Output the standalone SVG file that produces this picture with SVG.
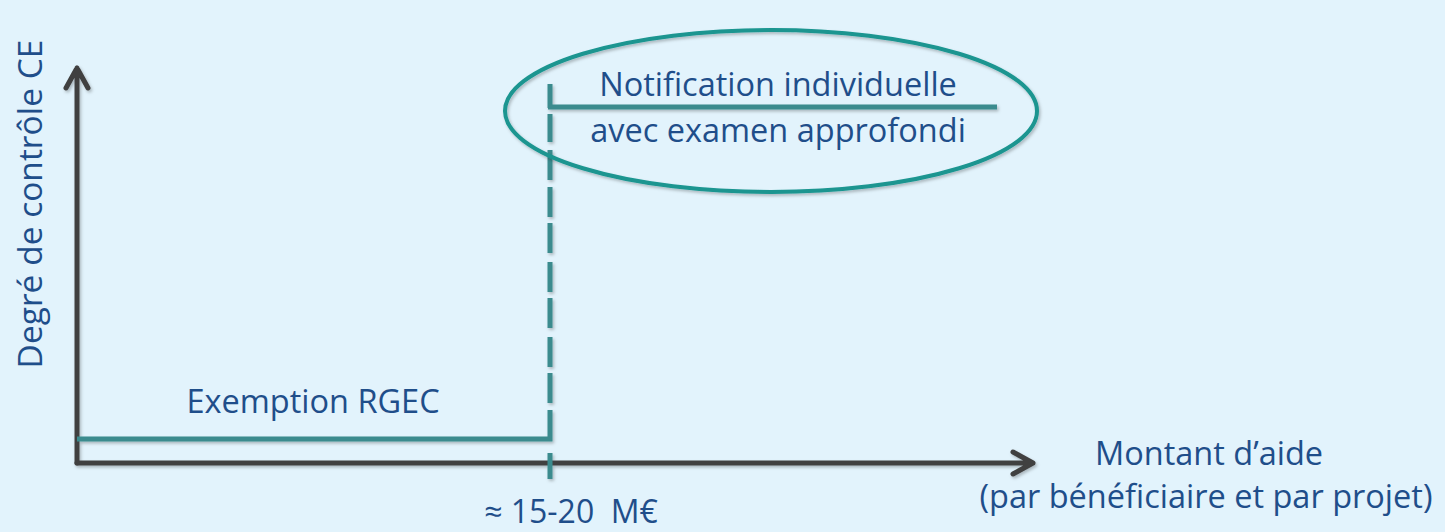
<svg xmlns="http://www.w3.org/2000/svg" width="1445" height="532" viewBox="0 0 1445 532">
<defs>
<style>
.t{font-family:"Open Sans","Liberation Sans",sans-serif;fill:#1f4e8a;font-size:32.5px;text-anchor:middle}
.axis{stroke:#404040;stroke-width:5;fill:none;stroke-linecap:round;stroke-linejoin:round}
.teal{stroke:#3b8b8e;stroke-width:5;fill:none}
</style>
<filter id="sh" x="-5%" y="-5%" width="110%" height="110%">
<feDropShadow dx="1.5" dy="2" stdDeviation="1.5" flood-color="#000" flood-opacity="0.25"/>
</filter>
</defs>
<rect width="1445" height="532" fill="#e2f3fc"/>
<g id="connectors" filter="url(#sh)">
<path class="axis" d="M77 463 V68 M66 88 L77 68 L88 88"/>
<path class="axis" d="M77 463 H1033 M1013 452 L1033 463 L1013 474"/>
<path class="teal" d="M77 439 H550 V410"/>
<path class="teal" d="M550 84 V108 M550 114 V142 M550 150 V180 M550 187 V217 M550 223 V253 M550 262 V292 M550 298 V328 M550 337 V367 M550 373 V403 M550 453 V479"/>
<path class="teal" d="M548 107 H997"/>
</g>
<g id="node-yaxis-label"><text class="t" style="font-size:33.5px" transform="translate(42 204) rotate(-90)">Degré de contrôle CE</text></g>
<g id="node-exemption"><text class="t" x="313" y="413">Exemption RGEC</text></g>
<g id="node-notification">
<ellipse cx="771" cy="111" rx="266" ry="81" fill="none" stroke="#1a9590" stroke-width="4" filter="url(#sh)"/>
<text class="t" x="778" y="96">Notification individuelle</text>
<text class="t" x="778" y="142">avec examen approfondi</text>
</g>
<g id="node-xaxis-label">
<text class="t" x="1209" y="465">Montant d’aide</text>
<text class="t" x="1206" y="508">(par bénéficiaire et par projet)</text>
</g>
<g id="node-threshold"><text class="t" style="font-size:32px" x="571" y="523" xml:space="preserve">≈ 15-20  M€</text></g>
</svg>
